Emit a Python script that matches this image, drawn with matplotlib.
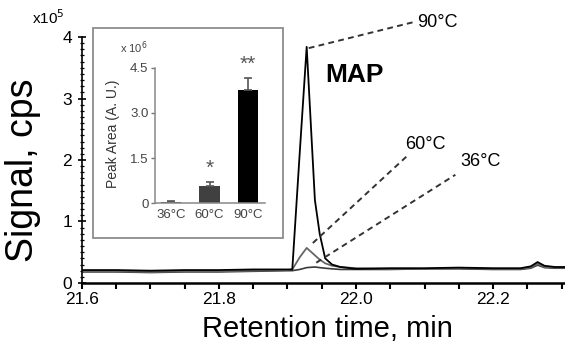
import matplotlib
matplotlib.use("Agg")
import matplotlib.pyplot as plt
from matplotlib.ticker import MultipleLocator, FixedLocator
from matplotlib.patches import Rectangle

plt.rcParams['font.family'] = ['Liberation Sans', 'DejaVu Sans']

# chromatogram traces (signal in units of 1e5 cps)
time = [21.60, 21.65, 21.70, 21.75, 21.80, 21.85, 21.90, 21.907, 21.918, 21.928,
        21.940, 21.947, 21.955, 21.965, 21.977, 22.00, 22.05, 22.10, 22.15, 22.20,
        22.24, 22.255, 22.265, 22.275, 22.29, 22.305]
sig_90 = [0.21, 0.21, 0.20, 0.21, 0.21, 0.22, 0.22, 0.22, 2.14, 3.84,
          1.35, 0.80, 0.40, 0.30, 0.26, 0.23, 0.24, 0.24, 0.25, 0.24,
          0.24, 0.27, 0.34, 0.28, 0.26, 0.26]
sig_60 = [0.19, 0.19, 0.18, 0.19, 0.19, 0.20, 0.21, 0.22, 0.42, 0.57,
          0.45, 0.38, 0.32, 0.28, 0.26, 0.24, 0.23, 0.23, 0.24, 0.23,
          0.23, 0.25, 0.31, 0.26, 0.25, 0.25]
sig_36 = [0.18, 0.18, 0.17, 0.18, 0.18, 0.19, 0.20, 0.20, 0.22, 0.25,
          0.26, 0.25, 0.24, 0.23, 0.22, 0.22, 0.22, 0.23, 0.23, 0.22,
          0.22, 0.24, 0.29, 0.25, 0.24, 0.24]

# inset bar chart (peak area, units of 1e6)
temps = ['36°C', '60°C', '90°C']
area = [0.04, 0.57, 3.77]
area_err = [0.02, 0.13, 0.40]
signif = ['', '*', '**']

fig = plt.figure(figsize=(5.65, 3.43), dpi=100)
ax = fig.add_axes([0.145, 0.175, 0.855, 0.717])

ax.plot(time, sig_36, color='#3a3a3a', lw=1.2)
ax.plot(time, sig_60, color='#666666', lw=1.3)
ax.plot(time, sig_90, color='black', lw=1.3)

ax.set_xlim(21.6, 22.305)
ax.set_ylim(0, 4)
ax.xaxis.set_major_locator(FixedLocator([21.6, 21.8, 22.0, 22.2]))
ax.xaxis.set_minor_locator(MultipleLocator(0.05))
ax.xaxis.set_major_formatter(plt.FuncFormatter(lambda v, p: f"{v:.1f}"))
ax.yaxis.set_major_locator(MultipleLocator(1))
ax.yaxis.set_minor_locator(MultipleLocator(0.1))
ax.tick_params(axis='x', which='both', direction='out', length=4.5, width=1.5,
               labelsize=12.5, pad=2)
ax.tick_params(axis='y', which='major', direction='inout', length=6, width=1.2,
               labelsize=12.5, pad=4)
ax.tick_params(axis='y', which='minor', direction='inout', length=3.5, width=0.9)
for s in ['top', 'right']:
    ax.spines[s].set_visible(False)
ax.spines['bottom'].set_linewidth(1.8)
ax.spines['left'].set_linewidth(1.2)

fig.text(0.579, 0.018, 'Retention time, min', fontsize=21, ha='center', va='baseline')
fig.text(0.04, 0.505, 'Signal, cps', fontsize=27, rotation=90, ha='center', va='center')
fig.text(0.057, 0.95, 'x10$^5$', fontsize=11, ha='left', va='center')

ax.text(21.998, 3.38, 'MAP', fontsize=19, fontweight='bold', ha='center', va='center')

# leader lines to the peaks
dash = dict(color='#333333', lw=1.4, ls=(0, (3, 2.2)), clip_on=False)
ax.plot([21.931, 22.083], [3.82, 4.24], **dash)
ax.plot([21.937, 22.076], [0.65, 2.08], **dash)
ax.plot([21.942, 22.145], [0.33, 1.76], **dash)
ax.text(22.089, 4.24, '90°C', fontsize=13, ha='left', va='center')
ax.text(22.072, 2.26, '60°C', fontsize=13, ha='left', va='center')
ax.text(22.152, 1.97, '36°C', fontsize=13, ha='left', va='center')

# inset
fig.patches.append(Rectangle((0.165, 0.306), 0.336, 0.612, transform=fig.transFigure,
                             fill=False, ec='#8c8c8c', lw=1.3))
ins = fig.add_axes([0.274, 0.408, 0.195, 0.394])
pos = range(len(temps))
ins.bar(pos, area, width=0.54, color=['#404040', '#404040', 'black'])
ins.errorbar(pos, area, yerr=[[0, 0, 0], area_err], fmt='none', ecolor='#555555',
             elinewidth=1.2, capsize=3, capthick=1.2)
for i, lab in enumerate(signif):
    if lab:
        ins.text(i, area[i] + area_err[i] + 0.45, lab, fontsize=15, color='#555555',
                 ha='center', va='center', clip_on=False)
ins.set_xlim(-0.42, 2.44)
ins.set_ylim(0, 4.5)
ins.set_yticks([0, 1.5, 3.0, 4.5])
ins.set_yticklabels(['0', '1.5', '3.0', '4.5'])
ins.set_xticks(list(pos))
ins.set_xticklabels(temps)
ins.tick_params(axis='y', direction='out', length=3, width=1, colors='#777777',
                labelcolor='#444444', labelsize=9.5, pad=1.5)
ins.tick_params(axis='x', length=0, labelcolor='#444444', labelsize=9.5, pad=4)
for s in ['top', 'right']:
    ins.spines[s].set_visible(False)
for s in ['left', 'bottom']:
    ins.spines[s].set_color('#888888')
    ins.spines[s].set_linewidth(1.1)
fig.text(0.2, 0.609, 'Peak Area (A. U.)', fontsize=10, rotation=90, ha='center',
         va='center', color='#333333')
fig.text(0.212, 0.86, 'x 10$^6$', fontsize=8, ha='left', va='center', color='#444444')

fig.savefig('out.png', dpi=100)
